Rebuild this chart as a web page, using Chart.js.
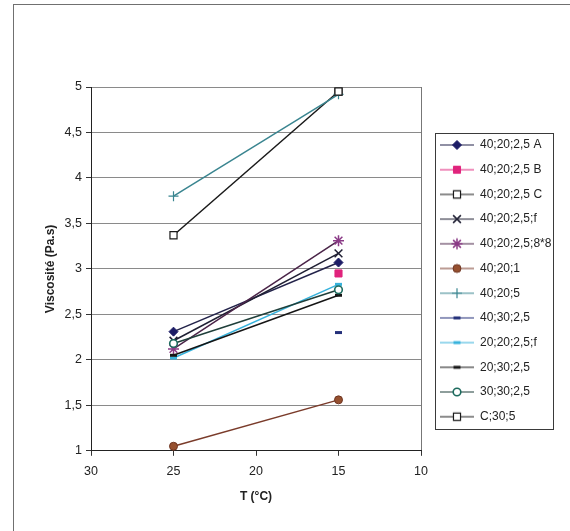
<!DOCTYPE html>
<html><head><meta charset="utf-8">
<script src="https://cdn.jsdelivr.net/npm/chart.js@4/dist/chart.umd.min.js"></script>
<style>
html,body{margin:0;padding:0;background:#fff;}
#wrap{position:relative;width:570px;height:531px;overflow:hidden;background:#fff;}
#frame{position:absolute;left:13px;top:4px;width:620px;height:620px;border:1.5px solid #707070;box-sizing:border-box;}
canvas{position:absolute;left:0;top:0;}
</style></head><body>
<div id="wrap"><div id="frame"></div><canvas id="c" width="570" height="531"></canvas></div>
<script>
// ---- data ----
const temperatures = [25, 15];
const seriesNames = ["40;20;2,5 A","40;20;2,5 B","40;20;2,5 C","40;20;2,5;f","40;20;2,5;8*8","40;20;1","40;20;5","40;30;2,5","20;20;2,5;f","20;30;2,5","30;30;2,5","C;30;5"];
const s_A      = [2.31, 3.07];
const s_B      = [null, 2.95];
const s_C      = [3.37, 4.95];
const s_f      = [2.21, 3.17];
const s_88     = [2.12, 3.31];
const s_40201  = [1.05, 1.56];
const s_40205  = [3.80, 4.92];
const s_40302  = [null, 2.30];
const s_2020f  = [2.02, 2.83];
const s_20302  = [2.05, 2.71];
const s_30302  = [2.18, 2.77];
const s_C305   = [null, 4.95];
const seriesValues = [s_A,s_B,s_C,s_f,s_88,s_40201,s_40205,s_40302,s_2020f,s_20302,s_30302,s_C305];
const xTickValues = [30, 25, 20, 15, 10];
const yTickValues = [1, 1.5, 2, 2.5, 3, 3.5, 4, 4.5, 5];

// ---- styles ----
const styles = [
  {line:'#23234a', style:'rectRot', r:4.5, bg:'#1d1d66', bc:'#1d1d66', bw:1},
  {line:'#e0237c', style:'rect',    r:5,   bg:'#e0237c', bc:'#e0237c', bw:1},
  {line:'#1a1a1a', style:'rect',    r:5,   bg:'#ffffff', bc:'#1a1a1a', bw:1.2},
  {line:'#1f1f33', style:'crossRot',r:5.5, bg:'#1f1f33', bc:'#1f1f33', bw:1.5},
  {line:'#4a2448', style:'star',    r:5.5, bg:'#8a3a86', bc:'#8a3a86', bw:1.5},
  {line:'#7a3b2a', style:'circle',  r:4,   bg:'#96502f', bc:'#6e3522', bw:1},
  {line:'#3a8590', style:'cross',   r:5,   bg:'#3a8590', bc:'#3a8590', bw:1.2},
  {line:'#24307a', style:'line',    r:3.5, bg:'#24307a', bc:'#24307a', bw:3},
  {line:'#36b2dc', style:'line',    r:3.5, bg:'#36b2dc', bc:'#36b2dc', bw:3},
  {line:'#151515', style:'line',    r:3.5, bg:'#151515', bc:'#151515', bw:3},
  {line:'#1f3f3a', style:'circle',  r:3.8, bg:'#ffffff', bc:'#1d6b5e', bw:1.6},
  {line:'#1a1a1a', style:'rect',    r:5,   bg:'#ffffff', bc:'#1a1a1a', bw:1.2}
];

const fmt = v => String(v).replace('.', ',');
const FONT = "'Liberation Sans', Arial, sans-serif";

const datasets = seriesNames.map((name, i) => {
  const s = styles[i];
  return {
    label: name,
    data: temperatures.map((t, k) => ({x: t, y: seriesValues[i][k]})),
    showLine: true, spanGaps: true, clip: false,
    borderColor: s.line, borderWidth: 1.5,
    pointStyle: s.style, pointRadius: s.r, pointHoverRadius: s.r,
    pointBackgroundColor: s.bg, pointBorderColor: s.bc, pointBorderWidth: s.bw,
    order: -i
  };
});

function legendImg(ds) {
  const c = document.createElement('canvas');
  c.width = 44; c.height = 14;
  const g = c.getContext('2d');
  g.strokeStyle = ds.borderColor; g.lineWidth = 1.2;
  g.beginPath(); g.moveTo(10, 7); g.lineTo(44, 7); g.stroke();
  g.fillStyle = ds.pointBackgroundColor; g.strokeStyle = ds.pointBorderColor; g.lineWidth = ds.pointBorderWidth;
  Chart.helpers.drawPoint(g, {pointStyle: ds.pointStyle, radius: ds.pointRadius, rotation: 0, borderWidth: ds.pointBorderWidth}, 27, 7);
  return c;
}
const legendImgs = datasets.map(legendImg);

const legendPlacer = {
  id: 'legendPlacer',
  afterLayout(chart) {
    const lg = chart.legend, p = lg.options.labels.padding, ca = chart.chartArea;
    const w = lg.width, h = lg.height;
    lg.left = ca.right + 9 - p; lg.right = lg.left + w;
    lg.top = ca.top + 52 - p; lg.bottom = lg.top + h;
  },
  afterDraw(chart) {
    const hb = chart.legend.legendHitBoxes; if (!hb || !hb.length) return;
    const f = hb[0], l = hb[hb.length - 1];
    const ctx = chart.ctx;
    ctx.save();
    ctx.strokeStyle = '#3a3a3a'; ctx.lineWidth = 1;
    const x = Math.round(f.left + 5) + 0.5, y = Math.round(f.top - 6) + 0.5;
    const y2 = Math.round(l.top + l.height + 6) + 0.5;
    ctx.strokeRect(x, y, 118, y2 - y);
    ctx.restore();
  }
};

new Chart(document.getElementById('c'), {
  type: 'scatter',
  data: { datasets },
  options: {
    responsive: false, animation: false,
    layout: { padding: { left: 40, top: 87, right: 9, bottom: 27 } },
    plugins: {
      tooltip: { enabled: false },
      legend: {
        position: 'right', align: 'start', maxWidth: 140,
        labels: {
          usePointStyle: true, pointStyleWidth: 44, boxHeight: 12, padding: 12.7,
          color: '#222', font: { family: FONT, size: 12 },
          generateLabels: chart => chart.data.datasets.map((ds, i) => ({
            text: ds.label, pointStyle: legendImgs[i], datasetIndex: i, hidden: false,
            fontColor: '#222', lineWidth: 0, strokeStyle: 'transparent', fillStyle: 'transparent'
          }))
        }
      }
    },
    scales: {
      x: {
        type: 'linear', reverse: true, min: 10, max: 30,
        afterBuildTicks: s => { s.ticks = xTickValues.map(v => ({value: v})); },
        afterFit: s => { s.height = 53.2; },
        ticks: { callback: fmt, color: '#222', font: { family: FONT, size: 12.5 }, padding: 8, maxRotation: 0 },
        grid: { color: ctx => (ctx.tick && ctx.tick.value === 10) ? '#777' : 'rgba(0,0,0,0)', tickColor: '#333', tickLength: 5, drawTicks: true },
        border: { display: true, color: '#222', width: 1 },
        title: { display: true, text: 'T (°C)', color: '#222', font: { family: FONT, size: 12, weight: 'bold' }, padding: { top: 4, bottom: 0 } }
      },
      y: {
        type: 'linear', min: 1, max: 5,
        afterBuildTicks: s => { s.ticks = yTickValues.map(v => ({value: v})); },
        afterFit: s => { s.width = 51; },
        ticks: { callback: fmt, color: '#222', font: { family: FONT, size: 12.5 }, padding: 4 },
        grid: { color: '#8a8a8a', tickColor: '#333', tickLength: 5, lineWidth: 1 },
        border: { display: true, color: '#222', width: 1 },
        title: { display: true, text: 'Viscosité (Pa.s)', color: '#222', font: { family: FONT, size: 12, weight: 'bold' }, padding: { top: 3.8, bottom: 0 } }
      }
    }
  },
  plugins: [legendPlacer]
});
</script>
</body></html>
